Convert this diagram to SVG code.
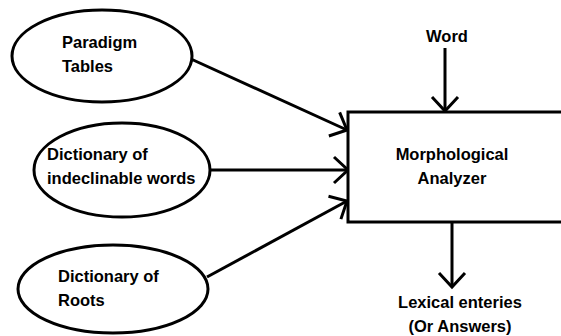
<svg xmlns="http://www.w3.org/2000/svg" width="561" height="336" viewBox="0 0 561 336">
<style>
.shape{fill:#fff;stroke:#000;stroke-width:3}
.line{fill:none;stroke:#000;stroke-width:3}
text{font-family:"Liberation Sans",Arial,sans-serif;font-weight:bold;font-size:16.5px;fill:#000}
</style>
<defs>
<marker id="arr" markerUnits="userSpaceOnUse" viewBox="-16 -14 18 28" refX="0" refY="0" markerWidth="18" markerHeight="28" orient="auto" overflow="visible">
<path d="M-14,-13 L0,0 L-14,13" fill="none" stroke="#000" stroke-width="3"/>
</marker>
</defs>
<rect width="561" height="336" fill="#fff"/>
<g id="connectors">
<line class="line" x1="191" y1="59" x2="347" y2="130" marker-end="url(#arr)"/>
<line class="line" x1="210" y1="170" x2="348" y2="170" marker-end="url(#arr)"/>
<line class="line" x1="207" y1="277" x2="347" y2="201" marker-end="url(#arr)"/>
<line class="line" x1="445" y1="48" x2="445" y2="111" marker-end="url(#arr)"/>
<line class="line" x1="452" y1="222" x2="452" y2="287" marker-end="url(#arr)"/>
</g>
<g id="paradigm">
<ellipse class="shape" cx="102" cy="56" rx="90" ry="46"/>
<text x="62" y="48">Paradigm</text>
<text x="62" y="72">Tables</text>
</g>
<g id="indeclinable">
<ellipse class="shape" cx="122" cy="170" rx="88" ry="47"/>
<text x="47" y="160">Dictionary of</text>
<text x="47" y="184">indeclinable words</text>
</g>
<g id="roots">
<ellipse class="shape" cx="113" cy="289" rx="95" ry="44"/>
<text x="58" y="282">Dictionary of</text>
<text x="58" y="306">Roots</text>
</g>
<g id="analyzer">
<rect class="shape" x="348" y="112" width="220" height="110"/>
<text x="452" y="160" text-anchor="middle">Morphological</text>
<text x="452" y="184" text-anchor="middle">Analyzer</text>
</g>
<g id="word">
<text x="447" y="42" text-anchor="middle">Word</text>
</g>
<g id="output">
<text x="460" y="308" text-anchor="middle">Lexical enteries</text>
<text x="460" y="332" text-anchor="middle">(Or Answers)</text>
</g>
</svg>
